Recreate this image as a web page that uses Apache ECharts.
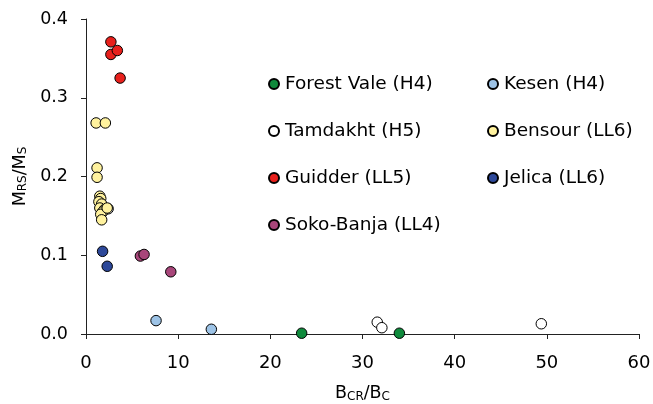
<!DOCTYPE html>
<html><head><meta charset="utf-8">
<script src="https://cdn.jsdelivr.net/npm/echarts@6/dist/echarts.min.js"></script>
<style>html,body{margin:0;padding:0;background:#fff}#c{width:653px;height:404px}</style>
</head><body><div id="c"></div>
<script>
const forestVale = [[23.4, 0.001], [34.0, 0.001]];
const kesen = [[7.6, 0.017], [13.6, 0.006]];
const tamdakht = [[31.6, 0.015], [32.1, 0.008], [49.4, 0.013], [2.4, 0.159]];
const bensour = [[1.1, 0.268], [2.1, 0.268], [1.2, 0.211], [1.2, 0.199],
  [1.5, 0.175], [1.6, 0.172], [1.4, 0.168], [1.7, 0.165], [1.5, 0.160],
  [2.0, 0.158], [1.8, 0.155], [1.6, 0.152], [2.3, 0.160], [1.7, 0.145]];
const guidder = [[2.7, 0.371], [2.7, 0.355], [3.4, 0.360], [3.7, 0.325]];
const jelica = [[1.8, 0.105], [2.3, 0.086]];
const sokoBanja = [[5.9, 0.099], [6.3, 0.101], [9.2, 0.079]];
const xTicks = [0, 10, 20, 30, 40, 50, 60];
const yTicks = [0.0, 0.1, 0.2, 0.3, 0.4];

const FONT = 'DejaVu Sans';
const colors = {
  'Forest Vale (H4)': '#0f8a3c', 'Kesen (H4)': '#9dc3e6', 'Tamdakht (H5)': '#ffffff',
  'Bensour (LL6)': '#fff29e', 'Guidder (LL5)': '#e8201c', 'Jelica (LL6)': '#2d4899',
  'Soko-Banja (LL4)': '#a8467a'
};
const seriesData = [
  ['Tamdakht (H5)', tamdakht], ['Forest Vale (H4)', forestVale], ['Kesen (H4)', kesen],
  ['Bensour (LL6)', bensour], ['Guidder (LL5)', guidder], ['Jelica (LL6)', jelica],
  ['Soko-Banja (LL4)', sokoBanja]
];
const chart = echarts.init(document.getElementById('c'));
const legendCommon = {
  orient: 'vertical', top: 69, itemWidth: 10, itemHeight: 10, itemGap: 27,
  icon: 'circle',
  textStyle: {fontFamily: FONT, fontSize: 18.5, color: '#000', lineHeight: 20, padding: [0, 0, 0, 1]},
  selectedMode: false
};
const nameRich = {
  n: {fontFamily: FONT, fontSize: 17.5, color: '#000', lineHeight: 18, verticalAlign: 'top'},
  s: {fontFamily: FONT, fontSize: 12, color: '#000', lineHeight: 12, verticalAlign: 'bottom', padding: [14, 0, 0, 0]}
};
chart.setOption({
  animation: false,
  grid: {left: 86, right: 14, top: 19, bottom: 70, containLabel: false, outerBoundsMode: 'none'},
  legend: [
    Object.assign({left: 263, data: ['Forest Vale (H4)', 'Tamdakht (H5)', 'Guidder (LL5)', 'Soko-Banja (LL4)']}, legendCommon),
    Object.assign({left: 482, data: ['Kesen (H4)', 'Bensour (LL6)', 'Jelica (LL6)']}, legendCommon)
  ],
  xAxis: {
    type: 'value', min: xTicks[0], max: xTicks[xTicks.length - 1], interval: 10,
    splitLine: {show: false},
    axisLine: {lineStyle: {color: '#222', width: 1}},
    axisTick: {show: true, length: 5, lineStyle: {color: '#222'}},
    axisLabel: {fontFamily: FONT, fontSize: 18, color: '#000', margin: 20},
    name: '{n|B}{s|CR}{n|/B}{s|C}', nameLocation: 'middle', nameGap: 46,
    nameTextStyle: {rich: nameRich}
  },
  yAxis: {
    type: 'value', min: yTicks[0], max: yTicks[yTicks.length - 1], interval: 0.1,
    splitLine: {show: false},
    axisLine: {show: true, lineStyle: {color: '#222', width: 1}},
    axisTick: {show: true, length: 5, lineStyle: {color: '#222'}},
    axisLabel: {fontFamily: FONT, fontSize: 17.5, color: '#000', margin: 18, formatter: v => v.toFixed(1)},
    name: '{n|M}{s|RS}{n|/M}{s|S}', nameLocation: 'middle', nameGap: 44, nameRotate: 90,
    nameTextStyle: {rich: nameRich}
  },
  series: seriesData.map(([name, data]) => ({
    name, type: 'scatter', data, symbol: 'circle', symbolSize: 10.5,
    itemStyle: {color: colors[name], borderColor: '#000', borderWidth: 1, opacity: 1}
  }))
});
</script></body></html>
